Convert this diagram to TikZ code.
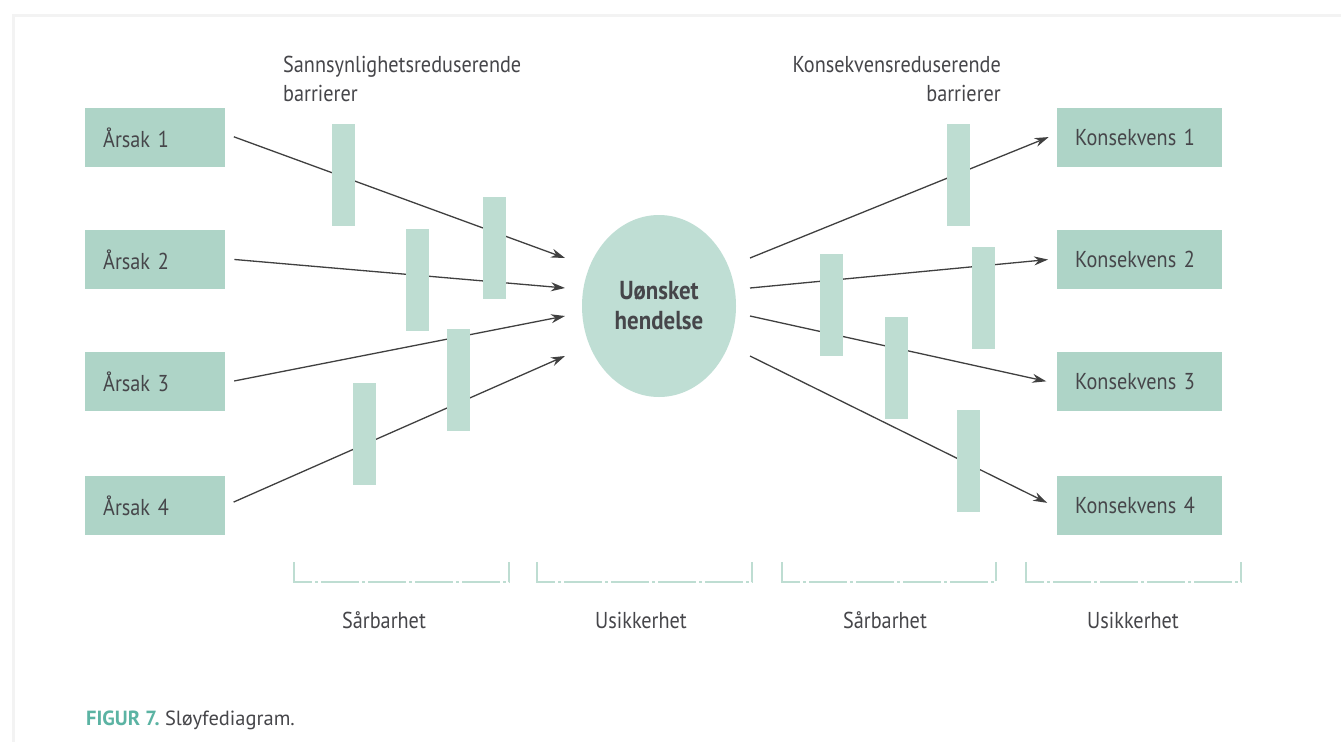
\documentclass[tikz,border=0pt]{standalone}
\usepackage{fontspec}
\setmainfont{PT Sans}[FakeStretch=0.88]
\newfontfamily\capfont{PT Sans}
\usetikzlibrary{arrows.meta,shapes.geometric}
\newcommand\myboxfont{\fontsize{23}{27}\selectfont\spaceskip=4.5pt plus 1pt minus 1pt\relax}
\definecolor{boxc}{HTML}{AED4C7}
\definecolor{barc}{HTML}{BEDDD2}
\definecolor{ellc}{HTML}{BFDED4}
\definecolor{txtc}{HTML}{46464A}
\definecolor{arrc}{HTML}{404040}
\definecolor{tealc}{HTML}{5BB3A3}
\definecolor{framec}{HTML}{F3F3F3}
\tikzset{
  causebox/.style={fill=boxc, minimum height=59pt, inner xsep=18pt, inner ysep=0pt, text width=104pt, align=left, text=txtc, font=\myboxfont, anchor=north west},
  conbox/.style={fill=boxc, minimum height=59pt, inner xsep=18pt, inner ysep=0pt, text width=129pt, align=left, text=txtc, font=\myboxfont, anchor=north west},
  barrier/.style={fill=barc, minimum width=23pt, minimum height=102pt, inner sep=0pt, anchor=north west},
  conn/.style={draw=arrc, line width=1.3pt, -{Stealth[length=14pt,width=9pt]}},
  bracket/.style={draw=barc, line width=1.6pt, dash pattern=on 38pt off 3pt on 3pt off 3pt},
  lbl/.style={text=txtc, font=\fontsize{23}{29}\selectfont, inner sep=0pt},
}
\begin{document}
\begin{tikzpicture}[x=1pt,y=-1pt]
\useasboundingbox (0,0) rectangle (1341,742);
\fill[white] (0,0) rectangle (1341,742);
% faint frame
\draw[framec, line width=3pt] (13,742) -- (13,15) -- (1341,15);

% causes
\node[causebox] (a1) at (85,108) {Årsak 1};
\node[causebox] (a2) at (85,230) {Årsak 2};
\node[causebox] (a3) at (85,352) {Årsak 3};
\node[causebox] (a4) at (85,476) {Årsak 4};
% consequences
\node[conbox] (k1) at (1057,108) {Konsekvens 1};
\node[conbox] (k2) at (1057,230) {Konsekvens 2};
\node[conbox] (k3) at (1057,352) {Konsekvens 3};
\node[conbox] (k4) at (1057,476) {Konsekvens 4};

% central event
\node[ellipse, fill=ellc, minimum width=154pt, minimum height=182pt, inner sep=0pt,
      text=txtc, font=\bfseries\fontsize{26}{30}\selectfont, align=center] (ev) at (659,306) {Uønsket\\hendelse};

% arrow end points at the event
\coordinate (i1) at (565,258);
\coordinate (i2) at (565,288);
\coordinate (i3) at (565,316);
\coordinate (i4) at (565,356);
\coordinate (o1) at (750,258);
\coordinate (o2) at (750,288);
\coordinate (o3) at (750,316);
\coordinate (o4) at (750,356);

\draw[conn, shorten <=9pt] ([yshift=4pt]a1.east) -- (i1);
\draw[conn, shorten <=9pt] ([yshift=1pt]a2.east) -- (i2);
\draw[conn, shorten <=9pt] ([yshift=-1pt]a3.east) -- (i3);
\draw[conn, shorten <=9pt] (a4.east) -- (i4);
\draw[conn, shorten >=9pt] (o1) -- ([yshift=4pt]k1.west);
\draw[conn, shorten >=9pt] (o2) -- ([yshift=1pt]k2.west);
\draw[conn, shorten >=11pt] (o3) -- ([yshift=-2pt]k3.west);
\draw[conn, shorten >=11pt] (o4) -- ([yshift=-2pt]k4.west);

% barriers
\node[barrier] (b1) at (332,124) {};
\node[barrier] (b2) at (406,229) {};
\node[barrier] (b3) at (483,197) {};
\node[barrier] (b4) at (447,329) {};
\node[barrier] (b5) at (353,383) {};
\node[barrier] (b6) at (947,124) {};
\node[barrier] (b7) at (820,254) {};
\node[barrier] (b8) at (972,247) {};
\node[barrier] (b9) at (885,317) {};
\node[barrier] (b10) at (957,410) {};

% barrier headings
\node[lbl, anchor=north west, align=left] (h1) at (283,56) {Sannsynlighetsreduserende\\barrierer};
\node[lbl, anchor=north east, align=right] (h2) at (1001,56) {Konsekvensreduserende\\barrierer};

% brackets
\draw[bracket] (294,562) -- (294,582) -- (509,582) -- (509,562);
\draw[bracket] (537,562) -- (537,582) -- (752,582) -- (752,562);
\draw[bracket] (782,562) -- (782,582) -- (996,582) -- (996,562);
\draw[bracket] (1026,562) -- (1026,582) -- (1241,582) -- (1241,562);

\node[lbl] (s1) at (384,620) {Sårbarhet};
\node[lbl] (u1) at (641,620) {Usikkerhet};
\node[lbl] (s2) at (885,620) {Sårbarhet};
\node[lbl] (u2) at (1133,620) {Usikkerhet};

% caption
\node[anchor=west, inner sep=0pt, font=\capfont\fontsize{20.5}{24}\selectfont] (cap) at (86,720)
  {\textcolor{tealc}{\bfseries FIGUR 7.}\ \textcolor{txtc}{Sløyfediagram.}};
\end{tikzpicture}
\end{document}
